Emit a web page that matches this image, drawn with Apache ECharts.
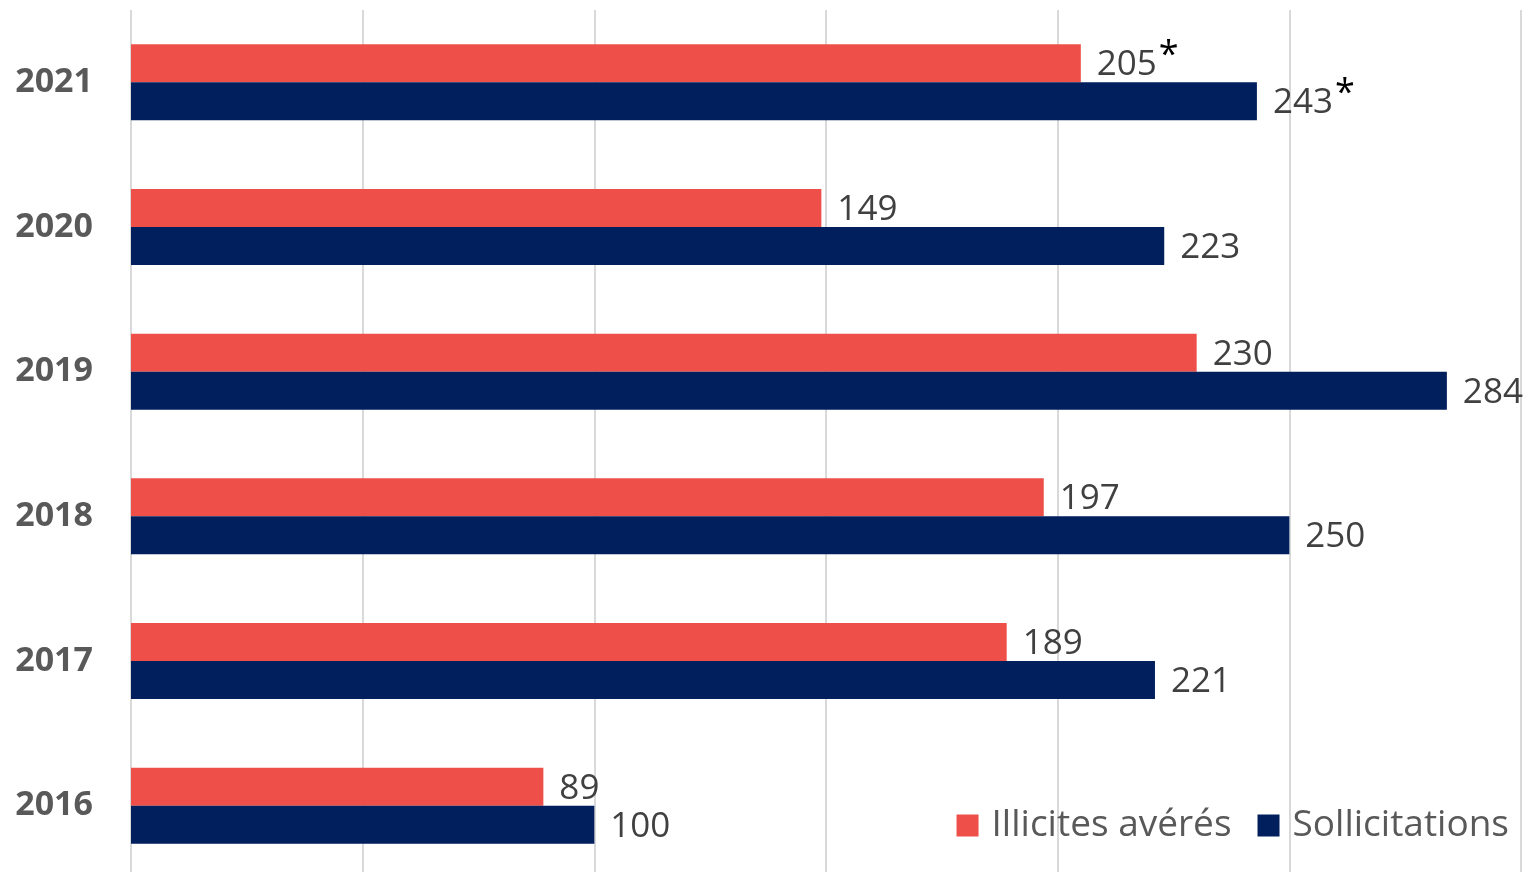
<!DOCTYPE html>
<html><head><meta charset="utf-8">
<script src="https://cdn.jsdelivr.net/npm/echarts@6/dist/echarts.min.js"></script>
<style>html,body{margin:0;padding:0;background:#fff;overflow:hidden}#c{width:1526px;height:878px}</style>
</head><body><div id="c"></div>
<script>
const categories = ['2016','2017','2018','2019','2020','2021'];
const illicites = [89,189,197,230,149,205];
const sollicitations = [100,221,250,284,223,243];
const starred = ['2021'];
const xTicks = [0,50,100,150,200,250,300];

const chart = echarts.init(document.getElementById('c'));
const FONT = '"Open Sans", sans-serif';
function labelFmt(p){
  const s = starred.indexOf(p.name) >= 0 ? '{s|*}' : '';
  return '{v|' + p.value + '}' + s;
}
const rich = {
  v: {fontSize: 35, color: '#404040', fontFamily: FONT, padding: [4,0,0,0]},
  s: {fontSize: 36, color: '#000', fontFamily: FONT, padding: [0,0,16,2]}
};
chart.setOption({
  animation: false,
  grid: {left: 131, right: 5, top: 10, bottom: 0},
  legend: {
    right: 12, top: 802, itemWidth: 22, itemHeight: 22, itemGap: 26,
    data: [{name:'Illicites avérés', icon:'rect'}, {name:'Sollicitations', icon:'rect'}],
    textStyle: {fontSize: 37, color: '#595959', fontFamily: FONT, padding:[0,0,0,8]},
    itemStyle: {borderWidth: 0}
  },
  xAxis: {
    type: 'value', min: xTicks[0], max: xTicks[xTicks.length-1], interval: 50,
    axisLabel: {show: false}, axisLine: {show: false}, axisTick: {show: false},
    splitLine: {lineStyle: {color: '#d9d9d9', width: 2}}
  },
  yAxis: {
    type: 'category', data: categories,
    axisLine: {show: false}, axisTick: {show: false},
    axisLabel: {fontSize: 34, fontWeight: 'bold', color: '#595959', fontFamily: FONT, margin: 38}
  },
  series: [
    {name: 'Illicites avérés', type: 'bar', data: illicites, barWidth: 38, barGap: '0%',
     itemStyle: {color: '#EE5049'},
     label: {show: true, position: 'right', distance: 16, formatter: labelFmt, rich: rich}},
    {name: 'Sollicitations', type: 'bar', data: sollicitations, barWidth: 38, barGap: '0%',
     itemStyle: {color: '#001F5C'},
     label: {show: true, position: 'right', distance: 16, formatter: labelFmt, rich: rich}}
  ]
});
</script></body></html>
